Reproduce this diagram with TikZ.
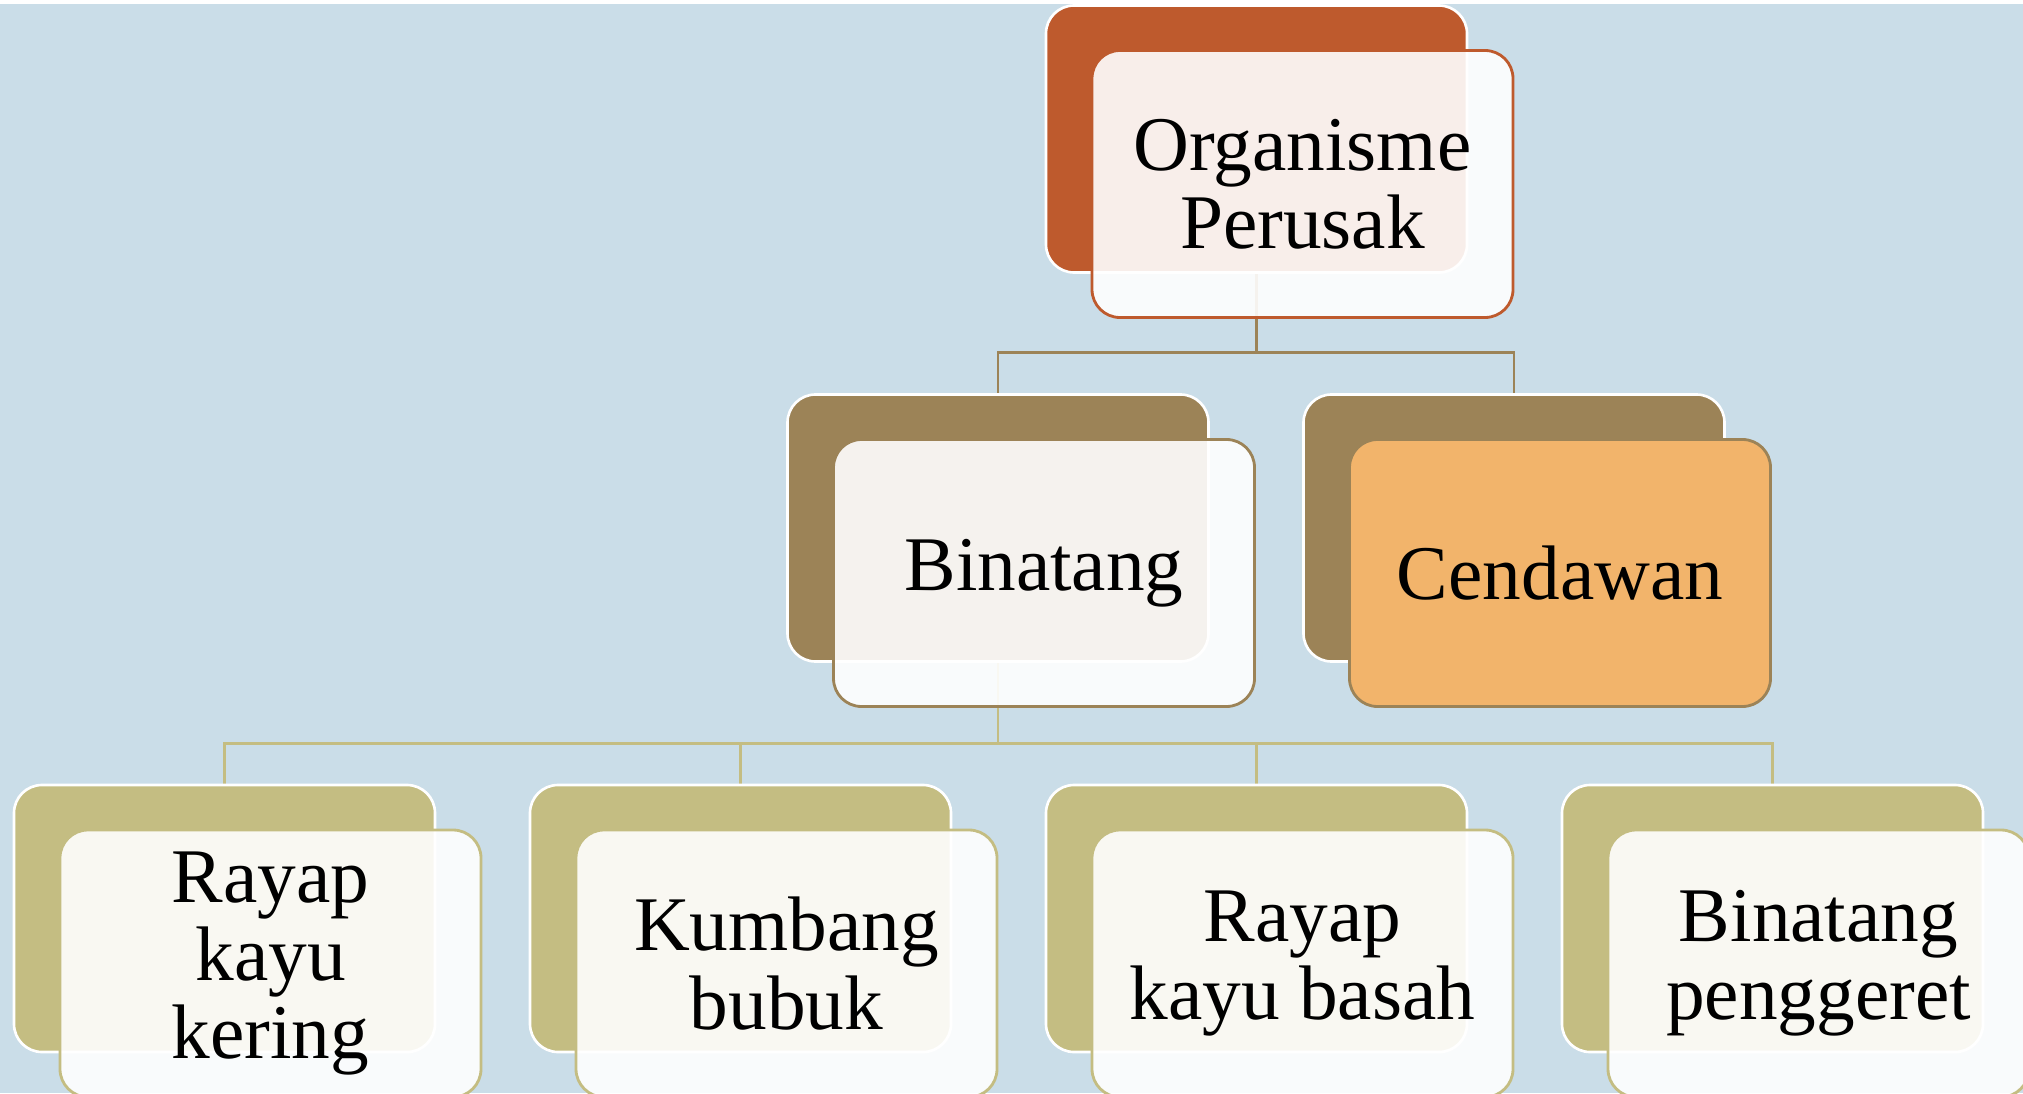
\documentclass[tikz,border=0pt]{standalone}
\usepackage{fontspec}
\setmainfont{Liberation Serif}
\usetikzlibrary{backgrounds}

\definecolor{skyish}{HTML}{CADDE8}
\definecolor{rust}{HTML}{BE5A2D}
\definecolor{bark}{HTML}{9C8357}
\definecolor{olive}{HTML}{C4BD82}
\definecolor{apricot}{HTML}{F2B46B}

\tikzset{
  back/.style={rounded corners=0.28cm, minimum width=4.21cm, minimum height=2.67cm,
    draw=white, line width=0.75pt},
  front/.style={rounded corners=0.28cm, minimum width=4.21cm, minimum height=2.67cm,
    line width=0.8pt, fill=white, fill opacity=0.9, text opacity=1, align=center,
    font=\fontsize{22}{22.3}\selectfont},
  link/.style={line width=0.8pt}
}

\begin{document}
\begin{tikzpicture}
\useasboundingbox (0,0) rectangle (20.23,10.93);
\clip (0,0) rectangle (20.23,10.93);
\begin{scope}[on background layer]
\fill[skyish] (0,0) rectangle (20.23,10.89);
\end{scope}

% back shapes
\node[back,fill=rust] (org) at (12.565,9.54) {};
\node[back,fill=bark] (bin) at (9.98,5.65) {};
\node[back,fill=bark] (cen) at (15.14,5.65) {};
\node[back,fill=olive] (rkk) at (2.245,1.745) {};
\node[back,fill=olive] (kbb) at (7.405,1.745) {};
\node[back,fill=olive] (rkb) at (12.565,1.745) {};
\node[back,fill=olive] (bpg) at (17.725,1.745) {};

% front shapes with the text
\node[front,draw=rust] (orgtxt) at ([shift={(0.46,-0.45)}]org.center) {Organisme\\Perusak};
\node[front,draw=bark] (bintxt) at ([shift={(0.46,-0.45)}]bin.center) {Binatang};
\node[front,draw=bark,fill=apricot,fill opacity=1] (centxt) at ([shift={(0.46,-0.45)}]cen.center) {Cendawan};
\node[front,draw=olive] (rkktxt) at ([shift={(0.46,-0.45)}]rkk.center) {Rayap\\kayu\\kering};
\node[front,draw=olive] (kbbtxt) at ([shift={(0.46,-0.45)}]kbb.center) {Kumbang\\bubuk};
\node[front,draw=olive] (rkbtxt) at ([shift={(0.46,-0.45)}]rkb.center) {Rayap\\kayu basah};
\node[front,draw=olive] (bpgtxt) at ([shift={(0.46,-0.45)}]bpg.center) {Binatang\\penggeret};

% connectors
\begin{scope}[on background layer]
\draw[link,bark] (org.south) |- ([yshift=0.41cm]bin.north) -- (bin.north);
\draw[link,bark] (org.south) |- ([yshift=0.41cm]cen.north) -- (cen.north);
\foreach \n in {rkk,kbb,rkb,bpg}
  \draw[link,olive] (bin.south) |- ([yshift=0.4cm]\n.north) -- (\n.north);
\end{scope}
\end{tikzpicture}
\end{document}
